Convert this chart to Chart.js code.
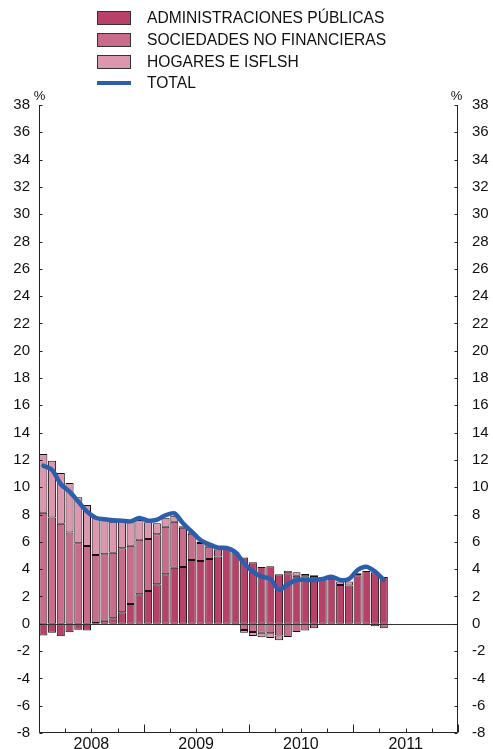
<!DOCTYPE html>
<html>
<head>
<meta charset="utf-8">
<script src="https://cdn.jsdelivr.net/npm/chart.js@4"></script>
<style>
  html, body { margin: 0; padding: 0; background: #fff; }
  #wrap { position: relative; width: 493px; height: 749px; }
  canvas { position: absolute; left: 0; top: 0; }
  .lg { position: absolute; left: 97px; height: 20px; display: flex; align-items: center;
        font-family: "Liberation Sans", Arial, Helvetica, sans-serif; font-size: 15.6px; color: #111; white-space: nowrap; }
  .lg .box { width: 32px; height: 12px; border: 1px solid #333; margin-right: 16px; }
  .lg .ln { width: 34px; height: 4px; background: #2b5fae; margin-right: 16px; }
</style>
</head>
<body>
<div id="wrap">
  <canvas id="c" width="493" height="749"></canvas>
  <div class="lg" style="top:8px"><div class="box" style="background:#b8416a"></div><span>ADMINISTRACIONES PÚBLICAS</span></div>
  <div class="lg" style="top:30px"><div class="box" style="background:#c96c8c"></div><span>SOCIEDADES NO FINANCIERAS</span></div>
  <div class="lg" style="top:52px"><div class="box" style="background:#dc97ae"></div><span>HOGARES E ISFLSH</span></div>
  <div class="lg" style="top:73px"><div class="ln"></div><span>TOTAL</span></div>
</div>
<script>
// ---- categories (months Jan 2008 - Dec 2011) ----
const months = [
  '2008-01','2008-02','2008-03','2008-04','2008-05','2008-06','2008-07','2008-08','2008-09','2008-10','2008-11','2008-12',
  '2009-01','2009-02','2009-03','2009-04','2009-05','2009-06','2009-07','2009-08','2009-09','2009-10','2009-11','2009-12',
  '2010-01','2010-02','2010-03','2010-04','2010-05','2010-06','2010-07','2010-08','2010-09','2010-10','2010-11','2010-12',
  '2011-01','2011-02','2011-03','2011-04','2011-05','2011-06','2011-07','2011-08','2011-09','2011-10','2011-11','2011-12'
];
const yearLabels = ['2008', '2009', '2010', '2011'];

// ---- series (contributions, %) ----
const administracionesPublicas = [
  -0.85, -0.65, -0.92, -0.62, -0.43, -0.50, 0.05, 0.23, 0.40, 0.84, 1.45, 2.16,
  2.40, 2.89, 3.62, 4.11, 4.16, 4.67, 4.60, 4.75, 4.92, 5.50, 5.24, 4.85,
  4.50, 4.16, 4.21, 3.63, 3.70, 3.52, 3.48, 3.50, 3.28, 3.30, 2.84, 2.80,
  3.55, 3.87, 3.77, 3.43
];
const sociedadesNoFinancieras = [
  8.14, 7.78, 7.33, 6.68, 5.90, 5.70, 4.99, 4.86, 4.81, 4.69, 4.27, 4.00,
  3.81, 3.67, 3.49, 3.37, 2.88, 1.93, 1.32, 0.90, 0.53, 0.05, -0.10, -0.45,
  -0.60, -0.65, -0.70, -0.85, -0.97, -0.60, -0.50, -0.33, 0.00, 0.00, 0.00, 0.00,
  0.00, -0.10, -0.18, -0.33
];
const hogaresIsflsh = [
  4.30, 4.17, 3.72, 3.63, 3.37, 3.00, 2.76, 2.51, 2.27, 1.90, 1.71, 1.44,
  1.22, 0.80, 0.66, 0.44, 0.10, 0.10, 0.10, 0.17, 0.13, 0.00, 0.00, -0.20,
  -0.29, -0.34, -0.34, -0.36, 0.19, 0.25, 0.17, 0.05, 0.00, 0.10, 0.25, 0.30,
  0.15, 0.00, 0.00, 0.00
];
const total = [
  11.58, 11.27, 10.22, 9.68, 8.95, 8.21, 7.77, 7.65, 7.58, 7.55, 7.50, 7.75,
  7.55, 7.62, 7.95, 8.09, 7.36, 6.75, 6.14, 5.82, 5.58, 5.55, 5.24, 4.43,
  3.82, 3.45, 3.28, 2.48, 2.89, 3.21, 3.21, 3.21, 3.28, 3.45, 3.21, 3.28,
  3.94, 4.18, 3.82, 3.21
];

const FONT = '"Liberation Sans", Arial, Helvetica, sans-serif';
const INK = '#111';

const axesPlugin = {
  id: 'axesPlugin',
  afterDatasetsDraw(chart) {
    const ctx = chart.ctx;
    const a = chart.chartArea;
    const y = chart.scales.y;
    ctx.save();
    const y0 = Math.round(y.getPixelForValue(0)) + 0.5;
    ctx.strokeStyle = '#333';
    ctx.lineWidth = 1;
    ctx.beginPath();
    ctx.moveTo(a.left, y0); ctx.lineTo(a.right, y0);
    ctx.stroke();
    ctx.restore();
  },
  afterDraw(chart) {
    const ctx = chart.ctx;
    const a = chart.chartArea;
    const y = chart.scales.y;
    const xq = chart.scales.xq;
    ctx.save();
    ctx.strokeStyle = '#222';
    ctx.lineWidth = 1;
    const L = Math.round(a.left) + 0.5, R = Math.round(a.right) - 0.5, B = Math.round(a.bottom) - 0.5;
    const T = Math.round(y.getPixelForValue(38));
    ctx.beginPath();
    ctx.moveTo(L, T); ctx.lineTo(L, B);
    ctx.moveTo(R, T); ctx.lineTo(R, B);
    ctx.moveTo(L, B); ctx.lineTo(R, B);
    for (const t of y.ticks) {
      const py = Math.round(y.getPixelForValue(t.value)) + 0.5;
      ctx.moveTo(L, py); ctx.lineTo(L + 3, py);
      ctx.moveTo(R, py); ctx.lineTo(R - 3, py);
    }
    for (let m = 0; m <= months.length; m += 3) {
      const px = Math.round(xq.getPixelForValue(m)) + 0.5;
      const len = (m % 12 === 0) ? 8 : 4;
      ctx.moveTo(px, B); ctx.lineTo(px, B - len);
    }
    ctx.stroke();
    ctx.fillStyle = INK;
    ctx.font = '13px ' + FONT;
    ctx.textAlign = 'center';
    ctx.textBaseline = 'alphabetic';
    ctx.fillText('%', L, T - 5);
    ctx.fillText('%', R - 1, T - 5);
    ctx.restore();
  }
};

function noVPad(s) { s.paddingTop = 0; s.paddingBottom = 0; }

new Chart(document.getElementById('c'), {
  data: {
    labels: months,
    datasets: [
      { type: 'bar', label: 'ADMINISTRACIONES PÚBLICAS', data: administracionesPublicas,
        backgroundColor: '#b8416a', borderColor: '#1a1014', borderWidth: 1, borderSkipped: false, order: 1, stack: 'bars' },
      { type: 'bar', label: 'SOCIEDADES NO FINANCIERAS', data: sociedadesNoFinancieras,
        backgroundColor: '#c96c8c', borderColor: '#1a1014', borderWidth: 1, borderSkipped: false, order: 1, stack: 'bars' },
      { type: 'bar', label: 'HOGARES E ISFLSH', data: hogaresIsflsh,
        backgroundColor: '#dc97ae', borderColor: '#1a1014', borderWidth: 1, borderSkipped: false, order: 1, stack: 'bars' },
      { type: 'line', label: 'TOTAL', data: total, borderColor: '#2b5fae', borderWidth: 4.5,
        pointRadius: 0, tension: 0.3, fill: false, order: 0, stack: 'total', borderCapStyle: 'round', borderJoinStyle: 'round' }
    ]
  },
  options: {
    responsive: false,
    animation: false,
    layout: { padding: { top: 105, bottom: 0, left: 0, right: 0 } },
    plugins: { legend: { display: false }, tooltip: { enabled: false } },
    datasets: { bar: { barPercentage: 0.92, categoryPercentage: 1.0 } },
    scales: {
      x: { type: 'category', stacked: true, display: false, offset: true },
      xq: {
        type: 'linear', position: 'bottom', min: 0, max: 48,
        grid: { display: false, drawTicks: false }, border: { display: false },
        afterBuildTicks(s) { s.ticks = [6, 18, 30, 42].map(v => ({ value: v })); },
        afterFit(s) { s.height = 16; s.paddingLeft = 0; s.paddingRight = 0; },
        ticks: { autoSkip: false, maxRotation: 0, padding: 2, color: INK, font: { family: FONT, size: 16 },
          callback(v) { return yearLabels[(v - 6) / 12]; } }
      },
      y: {
        type: 'linear', position: 'left', stacked: true, min: -8, max: 38,
        grid: { display: false, drawTicks: false }, border: { display: false },
        afterFit(s) { s.width = 39; noVPad(s); },
        ticks: { stepSize: 2, padding: 9, color: INK, font: { family: FONT, size: 15 } }
      },
      y2: {
        type: 'linear', position: 'right', min: -8, max: 38,
        grid: { display: false, drawTicks: false }, border: { display: false },
        afterFit(s) { s.width = 35; noVPad(s); },
        ticks: { stepSize: 2, padding: 14, color: INK, font: { family: FONT, size: 15 } }
      }
    }
  },
  plugins: [axesPlugin]
});
</script>
</body>
</html>
